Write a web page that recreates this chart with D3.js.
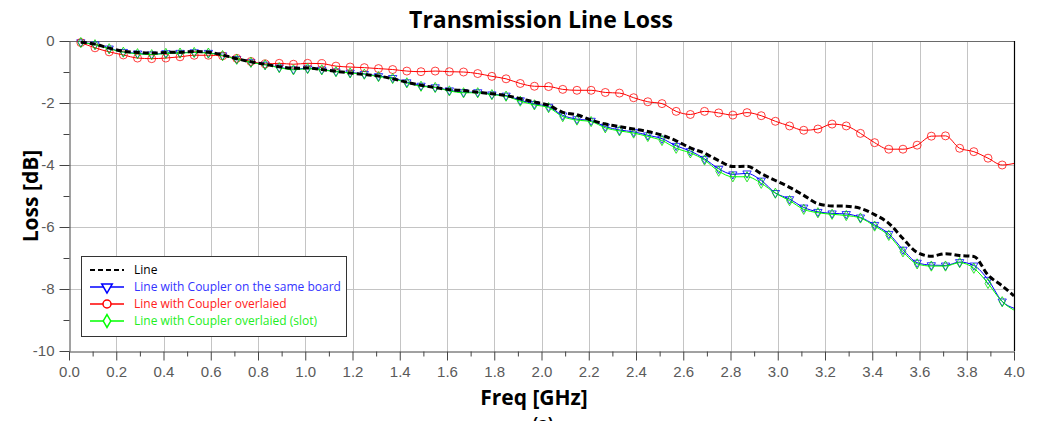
<!DOCTYPE html>
<html>
<head>
<meta charset="utf-8">
<script src="https://cdn.jsdelivr.net/npm/d3@7"></script>
<style>
  html, body { margin: 0; padding: 0; background: #ffffff; overflow: hidden; }
  svg { display: block; }
</style>
</head>
<body>
<script>
// ---------------- data ----------------
const freqGHz = [0.05,0.11,0.17,0.23,0.29,0.35,0.41,0.47,0.53,0.59,0.65,0.71,0.77,0.83,0.89,0.95,1.01,1.07,1.13,1.19,
  1.25,1.31,1.37,1.43,1.49,1.55,1.61,1.67,1.73,1.79,1.85,1.91,1.97,2.03,2.09,2.15,2.21,2.27,2.33,2.39,
  2.45,2.51,2.57,2.63,2.69,2.75,2.81,2.87,2.93,2.99,3.05,3.11,3.17,3.23,3.29,3.35,3.41,3.47,3.53,3.59,
  3.65,3.71,3.77,3.83,3.89,3.95,4.00];

const lossLine = [-0.04,-0.10,-0.23,-0.33,-0.37,-0.39,-0.37,-0.36,-0.34,-0.36,-0.45,-0.57,-0.67,-0.75,-0.83,-0.88,-0.87,-0.92,-0.98,-1.03,
  -1.08,-1.13,-1.22,-1.33,-1.43,-1.50,-1.57,-1.60,-1.65,-1.70,-1.76,-1.86,-1.97,-2.07,-2.30,-2.38,-2.55,-2.68,-2.76,-2.84,
  -2.92,-3.04,-3.22,-3.45,-3.62,-3.86,-4.05,-4.04,-4.28,-4.50,-4.72,-4.98,-5.25,-5.32,-5.33,-5.40,-5.60,-5.88,-6.37,-6.82,
  -6.94,-6.86,-6.92,-6.95,-7.55,-7.90,-8.22];

const lossSameBoard = [-0.04,-0.11,-0.24,-0.35,-0.40,-0.43,-0.39,-0.38,-0.36,-0.38,-0.46,-0.58,-0.68,-0.76,-0.85,-0.91,-0.88,-0.92,-0.98,-1.02,
  -1.06,-1.13,-1.19,-1.33,-1.44,-1.49,-1.59,-1.65,-1.65,-1.72,-1.76,-1.91,-2.03,-2.12,-2.40,-2.52,-2.57,-2.76,-2.87,-2.93,
  -3.04,-3.15,-3.38,-3.55,-3.80,-4.12,-4.30,-4.27,-4.50,-4.90,-5.10,-5.37,-5.51,-5.56,-5.58,-5.69,-5.93,-6.22,-6.73,-7.15,
  -7.23,-7.24,-7.13,-7.24,-7.70,-8.40,-8.62];

const lossOverlaied = [-0.05,-0.22,-0.35,-0.45,-0.55,-0.57,-0.55,-0.51,-0.46,-0.46,-0.48,-0.56,-0.66,-0.74,-0.72,-0.75,-0.72,-0.73,-0.81,-0.84,
  -0.86,-0.89,-0.92,-0.97,-0.99,-0.97,-0.99,-1.00,-1.05,-1.14,-1.22,-1.37,-1.46,-1.47,-1.56,-1.59,-1.59,-1.66,-1.68,-1.83,
  -1.96,-2.02,-2.27,-2.37,-2.27,-2.32,-2.39,-2.31,-2.41,-2.59,-2.74,-2.88,-2.84,-2.68,-2.74,-2.98,-3.28,-3.49,-3.49,-3.36,
  -3.07,-3.06,-3.46,-3.57,-3.78,-4.00,-3.95];

const lossOverlaiedSlot = [-0.05,-0.12,-0.25,-0.36,-0.41,-0.44,-0.40,-0.39,-0.37,-0.39,-0.47,-0.59,-0.69,-0.77,-0.86,-0.93,-0.89,-0.93,-0.99,-1.03,
  -1.07,-1.15,-1.21,-1.35,-1.46,-1.50,-1.61,-1.67,-1.67,-1.73,-1.78,-1.94,-2.06,-2.15,-2.44,-2.55,-2.60,-2.80,-2.90,-2.97,
  -3.08,-3.21,-3.46,-3.61,-3.84,-4.20,-4.38,-4.38,-4.59,-4.91,-5.15,-5.43,-5.54,-5.59,-5.63,-5.71,-5.97,-6.27,-6.80,-7.19,
  -7.26,-7.26,-7.15,-7.33,-7.82,-8.41,-8.68];

const seriesNames = ["Line", "Line with Coupler on the same board", "Line with Coupler overlaied", "Line with Coupler overlaied (slot)"];
const xMajorTicks = [0.0,0.2,0.4,0.6,0.8,1.0,1.2,1.4,1.6,1.8,2.0,2.2,2.4,2.6,2.8,3.0,3.2,3.4,3.6,3.8,4.0];
const xMinorTicks = [0.1,0.3,0.5,0.7,0.9,1.1,1.3,1.5,1.7,1.9,2.1,2.3,2.5,2.7,2.9,3.1,3.3,3.5,3.7,3.9];
const yMajorTicks = [0,-2,-4,-6,-8,-10];
const yMinorTicks = [-1,-3,-5,-7,-9];
const titleText = "Transmission Line Loss";
const xLabelText = "Freq [GHz]";
const yLabelText = "Loss [dB]";
const captionText = "(a)";

// ---------------- layout ----------------
const W = 1037, H = 421;
const L = 69, R = 1014, T = 41, B = 351;

const svg = d3.select("body").append("svg").attr("width", W).attr("height", H);

const x = d3.scaleLinear().domain([0, 4]).range([L, R]);
const y = d3.scaleLinear().domain([-10, 0]).range([B, T]);

// grid
svg.append("g").selectAll("line").data(xMajorTicks.filter(v => v > 0 && v < 4)).join("line")
  .attr("x1", d => Math.round(x(d)) + 0.5).attr("x2", d => Math.round(x(d)) + 0.5)
  .attr("y1", T).attr("y2", B)
  .attr("stroke", "#c4c4c4").attr("stroke-width", 1);
svg.append("g").selectAll("line").data(yMajorTicks.filter(v => v < 0 && v > -10)).join("line")
  .attr("x1", L).attr("x2", R)
  .attr("y1", d => Math.round(y(d)) + 0.5).attr("y2", d => Math.round(y(d)) + 0.5)
  .attr("stroke", "#c4c4c4").attr("stroke-width", 1);

// frame top & right
svg.append("line").attr("x1", L).attr("x2", R).attr("y1", T + 0.5).attr("y2", T + 0.5)
  .attr("stroke", "#6a6a6a").attr("stroke-width", 1);
svg.append("line").attr("x1", R + 0.5).attr("x2", R + 0.5).attr("y1", T).attr("y2", B)
  .attr("stroke", "#000").attr("stroke-width", 1.2);

// axes
const tickFont = "'Liberation Sans', Arial, sans-serif";
const xAxis = svg.append("g").attr("transform", `translate(0,${B + 0.5})`)
  .call(d3.axisBottom(x).tickValues(xMajorTicks).tickSize(9).tickSizeOuter(0).tickPadding(6).tickFormat(d => d.toFixed(1)));
const xAxisMinor = svg.append("g").attr("transform", `translate(0,${B + 0.5})`)
  .call(d3.axisBottom(x).tickValues(xMinorTicks).tickSize(5).tickSizeOuter(0).tickFormat(""));
xAxisMinor.select(".domain").remove();

const yAxis = svg.append("g").attr("transform", `translate(${L + 0.5},0)`)
  .call(d3.axisLeft(y).tickValues(yMajorTicks).tickSize(10).tickSizeOuter(0).tickPadding(5).tickFormat(d => String(d)));
const yAxisMinor = svg.append("g").attr("transform", `translate(${L + 0.5},0)`)
  .call(d3.axisLeft(y).tickValues(yMinorTicks).tickSize(6).tickSizeOuter(0).tickFormat(""));
yAxisMinor.select(".domain").remove();

svg.selectAll(".domain").attr("stroke", "#444");
svg.selectAll(".tick line").attr("stroke", "#444");
svg.selectAll(".tick text").attr("fill", "#5a5a5a").style("font-family", tickFont).style("font-size", "15px");

// series
const pts = vals => freqGHz.map((f, i) => [f, vals[i]]);
const lineGen = d3.line().x(d => x(d[0])).y(d => y(d[1])).curve(d3.curveMonotoneX);

const plot = svg.append("g");

function drawMarkers(data, color, shape) {
  const g = plot.append("g");
  const mk = data.slice(0, data.length - 1);
  if (shape === "circle") {
    g.selectAll("circle").data(mk).join("circle")
      .attr("cx", d => x(d[0])).attr("cy", d => y(d[1])).attr("r", 4)
      .attr("fill", "none").attr("stroke", color).attr("stroke-width", 1).attr("opacity", 0.75);
  } else {
    const sym = shape === "tri" ? d3.symbolTriangle : d3.symbolDiamond;
    const rot = shape === "tri" ? 180 : 0;
    g.selectAll("path").data(mk).join("path")
      .attr("d", d3.symbol().type(sym).size(30))
      .attr("transform", d => `translate(${x(d[0])},${y(d[1])}) rotate(${rot})`)
      .attr("fill", "none").attr("stroke", color).attr("stroke-width", 1).attr("opacity", 0.8);
  }
}

const blueData = pts(lossSameBoard);
const redData = pts(lossOverlaied);
const greenData = pts(lossOverlaiedSlot);
const blackData = pts(lossLine);

plot.append("path").datum(blueData).attr("d", lineGen)
  .attr("fill", "none").attr("stroke", "#0000ff").attr("stroke-width", 1);
drawMarkers(blueData, "#0000ff", "tri");

plot.append("path").datum(redData).attr("d", lineGen)
  .attr("fill", "none").attr("stroke", "#ff0000").attr("stroke-width", 1);
drawMarkers(redData, "#ff0000", "circle");

plot.append("path").datum(greenData).attr("d", lineGen)
  .attr("fill", "none").attr("stroke", "#00ff00").attr("stroke-width", 1);
drawMarkers(greenData, "#00dd00", "diamond");

plot.append("path").datum(blackData).attr("d", lineGen)
  .attr("fill", "none").attr("stroke", "#000").attr("stroke-width", 3)
  .attr("stroke-dasharray", "6,3");

// titles
const boldFont = "'Open Sans', 'DejaVu Sans', sans-serif";
svg.append("text").attr("x", 541).attr("y", 28).attr("text-anchor", "middle")
  .style("font-family", boldFont).style("font-weight", 700).style("font-size", "23px").attr("fill", "#000")
  .text(titleText);
svg.append("text").attr("x", 534).attr("y", 405).attr("text-anchor", "middle")
  .style("font-family", boldFont).style("font-weight", 700).style("font-size", "21px").attr("fill", "#000")
  .text(xLabelText);
svg.append("text").attr("transform", "translate(38,196) rotate(-90)").attr("text-anchor", "middle")
  .style("font-family", boldFont).style("font-weight", 700).style("font-size", "21px").attr("fill", "#000")
  .text(yLabelText);
svg.append("text").attr("x", 543).attr("y", 429).attr("text-anchor", "middle")
  .style("font-family", boldFont).style("font-weight", 700).style("font-size", "16px").attr("fill", "#000")
  .text(captionText);

// legend
const legendColors = ["#000000", "#0000ff", "#ff0000", "#00ff00"];
const legendText = ["#000000", "#3333ff", "#ff2020", "#22ee22"];
const legendShapes = ["none", "tri", "circle", "diamond"];
const lg = svg.append("g");
lg.append("rect").attr("x", 81.5).attr("y", 256.5).attr("width", 265).attr("height", 80)
  .attr("fill", "#fff").attr("stroke", "#333").attr("stroke-width", 1);
const ly = d3.scalePoint().domain(seriesNames).range([270, 321]);
seriesNames.forEach((name, i) => {
  const yy = ly(name);
  const ln = lg.append("line").attr("x1", 90).attr("x2", 124).attr("y1", yy).attr("y2", yy)
    .attr("stroke", legendColors[i]);
  if (i === 0) ln.attr("stroke-width", 2).attr("stroke-dasharray", "5,3");
  else ln.attr("stroke-width", 1.5);
  const cx = 107;
  if (legendShapes[i] === "circle") {
    lg.append("circle").attr("cx", cx).attr("cy", yy).attr("r", 4)
      .attr("fill", "#fff").attr("stroke", legendColors[i]).attr("stroke-width", 1.5);
  } else if (legendShapes[i] !== "none") {
    const sym = legendShapes[i] === "tri" ? d3.symbolTriangle : d3.symbolDiamond;
    lg.append("path").attr("d", d3.symbol().type(sym).size(48))
      .attr("transform", `translate(${cx},${yy}) rotate(${legendShapes[i] === "tri" ? 180 : 0})`)
      .attr("fill", "#fff").attr("stroke", legendColors[i]).attr("stroke-width", 1.5);
  }
  lg.append("text").attr("x", 134).attr("y", yy + 4)
    .style("font-family", "'Open Sans', sans-serif").style("font-size", "12px")
    .attr("fill", legendText[i]).text(name);
});
</script>
</body>
</html>
